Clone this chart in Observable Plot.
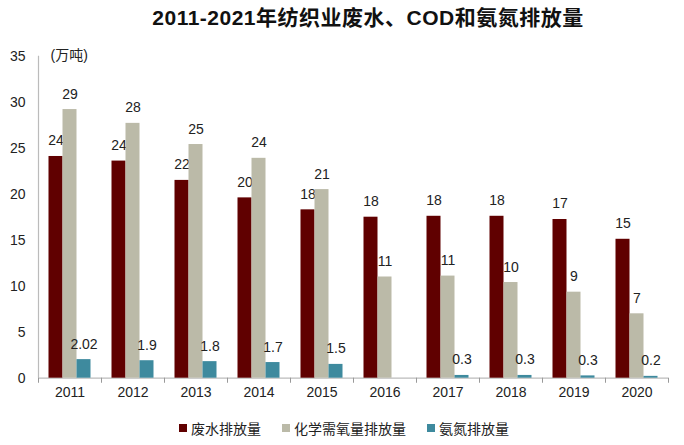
<!DOCTYPE html>
<html><head><meta charset="utf-8">
<script src="https://cdn.jsdelivr.net/npm/d3@7"></script>
<script src="https://cdn.jsdelivr.net/npm/@observablehq/plot@0.6"></script>
<style>
body{margin:0;background:#fff;font-family:"Liberation Sans",Arial,"Noto Sans CJK SC",sans-serif;}
#title{height:38px;line-height:36px;text-align:center;font-weight:bold;font-size:21px;letter-spacing:0.5px;color:#111;padding-left:52px;box-sizing:border-box;font-family:"Liberation Sans",Arial,"Noto Sans CJK SC",sans-serif;}
#legend{display:flex;justify-content:flex-start;padding-left:179px;font-size:14px;color:#222;height:35px;align-items:center;}
#legend span{display:inline-flex;align-items:center;margin-right:21px;}
#legend i{display:inline-block;width:8px;height:8px;margin-right:4px;}
</style></head>
<body>
<div id="title">2011-2021年纺织业废水、COD和氨氮排放量</div>
<div id="chart"></div>
<div id="legend"></div>
<script>
const years = ["2011","2012","2013","2014","2015","2016","2017","2018","2019","2020"];
const wastewater = [24.1,23.6,21.5,19.6,18.3,17.5,17.6,17.6,17.25,15.1];
const cod = [29.2,27.7,25.4,23.9,20.5,11.0,11.1,10.4,9.35,7.0];
const ammonia = [2.02,1.9,1.8,1.7,1.5,null,0.3,0.3,0.25,0.2];
const ammoniaLabels = ["2.02","1.9","1.8","1.7","1.5","","0.3","0.3","0.3","0.2"];
const seriesNames = ["废水排放量","化学需氧量排放量","氨氮排放量"];
const colors = ["#600000","#bbbaa8","#3e8a9e"];
const yTicks = [0,5,10,15,20,25,30,35];

const data = years.map((y,i)=>({year:y, w:wastewater[i], c:cod[i], n:ammonia[i], nl:ammoniaLabels[i]}));
const keys = ["w","c","n"];
const bw = 14;
const marks = [];
keys.forEach((k,i)=>{
  const dx = (i-1)*bw;
  marks.push(Plot.barY(data.filter(d=>d[k]!=null), {x:"year", y:k, fill:colors[i], dx, insetLeft:24.5, insetRight:24.5}));
  marks.push(Plot.text(data.filter(d=>d[k]!=null), {x:"year", y:k, dx, dy:-15.5, lineAnchor:"middle",
    text: k==="n" ? (d=>d.nl) : (d=>String(Math.round(d[k]))), fontSize:14, fill:"#222"}));
});

const chart = Plot.plot({
  width:684, height:372,
  marginLeft:38, marginRight:16, marginTop:17.7, marginBottom:32.3,
  style:{fontFamily:'"Liberation Sans",Arial,"Noto Sans CJK SC",sans-serif', fontSize:"14px", color:"#222"},
  x:{domain:years, padding:0, label:null},
  y:{domain:[0,35], ticks:yTicks, label:null},
  marks:[
    Plot.axisY({ticks:yTicks, tickSize:0, tickPadding:13, fontSize:14, label:null}),
    Plot.axisX({tickSize:0, tickPadding:9, fontSize:14, label:null}),
    Plot.ruleX([0], {x:()=>years[0], dx:-31.5, y1:0, y2:35, stroke:"#bbb", strokeWidth:1.2}),
    Plot.ruleY([0], {stroke:"#bbb", strokeWidth:1.2}),
    Plot.ruleX(years, {x:d=>d, dx:-31.5, y1:0, y2:-0.55, stroke:"#999"}),
    Plot.ruleX([years[years.length-1]], {x:d=>d, dx:31.5, y1:0, y2:-0.55, stroke:"#999"}),
    ...marks,
    Plot.text(["(万吨)"], {frameAnchor:"top-left", dx:12, dy:-6, text:d=>d, fontSize:14, textAnchor:"start", fill:"#222"})
  ]
});
document.getElementById("chart").appendChild(chart);
const lg = document.getElementById("legend");
seriesNames.forEach((n,i)=>{
  const s=document.createElement("span");
  s.innerHTML=`<i style="background:${colors[i]}"></i>${n}`;
  lg.appendChild(s);
});
</script>
</body></html>
